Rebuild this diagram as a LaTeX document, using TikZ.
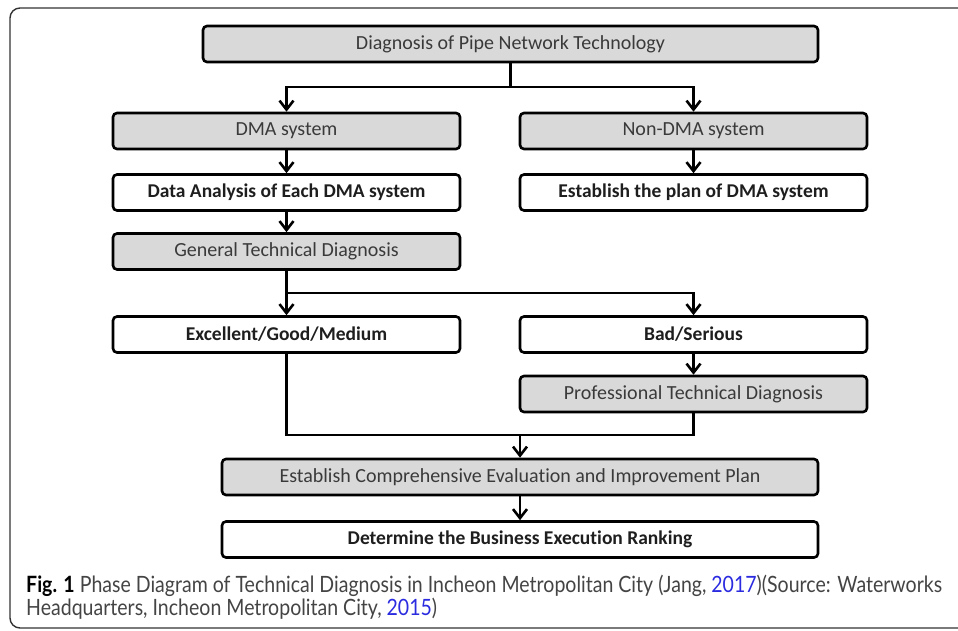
\documentclass[tikz,border=0pt]{standalone}
\usepackage{fontspec}
\setmainfont{Carlito}[Ligatures=NoCommon]
\newfontfamily\capfont{Lato}[Ligatures=NoCommon]
\usetikzlibrary{arrows.meta}
\definecolor{boxgray}{HTML}{D9D9D9}
\definecolor{textgray}{HTML}{3A3A3A}
\definecolor{textdark}{HTML}{1E1E1E}
\definecolor{capgray}{HTML}{444444}
\definecolor{linkblue}{HTML}{2B2BE0}
\definecolor{framegray}{HTML}{333333}
\newsavebox\capA
\tikzset{
  box/.style={draw=black, line width=2.6pt, rounded corners=4pt, minimum height=36pt, inner sep=0pt},
  graybox/.style={box, fill=boxgray, text=textgray, font=\fontsize{20}{22}\selectfont},
  whitebox/.style={box, fill=white, text=textdark, font=\fontsize{19.5}{22}\selectfont\bfseries},
  conn/.style={line width=2.6pt, black},
  arr/.style={conn, -{Straight Barb[length=9pt,width=14pt]}},
}
\begin{document}
\sbox\capA{\capfont\color{capgray}{\color{black}\textbf{Fig. 1}} Phase Diagram of Technical Diagnosis in Incheon Metropolitan City (Jang, \textcolor{linkblue}{2017})(Source: Waterworks}%
\pgfmathsetmacro\capscale{916/\the\wd\capA}%
\pgfmathsetmacro\capscaley{1.15*\capscale}%
\begin{tikzpicture}[x=1pt,y=-1pt]
\useasboundingbox (0,0) rectangle (958,630);
% outer frame
\draw[framegray, line width=1.4pt, rounded corners=10pt] (10,8) rectangle (990,628);
% nodes
\node[graybox, minimum width=615pt] (top) at (510.5,44) {Diagnosis of Pipe Network Technology};
\node[graybox, minimum width=347pt] (dma) at (286.5,131) {DMA system};
\node[graybox, minimum width=347pt] (ndma) at (693.5,131) {Non-DMA system};
\node[whitebox, minimum width=347pt] (data) at (286.5,192.5) {Data Analysis of Each DMA system};
\node[whitebox, minimum width=347pt] (plan) at (693.5,192.5) {Establish the plan of DMA system};
\node[graybox, minimum width=347pt] (gtd) at (286.5,251.5) {General Technical Diagnosis};
\node[whitebox, minimum width=347pt] (exc) at (286.5,334.5) {Excellent/Good/Medium};
\node[whitebox, minimum width=347pt] (bad) at (693.5,334.5) {Bad/Serious};
\node[graybox, minimum width=347pt] (prof) at (693.5,394) {Professional Technical Diagnosis};
\node[graybox, minimum width=596pt] (comp) at (520,477) {Establish Comprehensive Evaluation and Improvement Plan};
\node[whitebox, minimum width=596pt] (det) at (520,539.5) {Determine the Business Execution Ranking};
% junctions
\coordinate (j1) at (510.5,87);
\coordinate (j2) at (286.5,293);
\coordinate (j3) at (520,435);
% connectors
\draw[conn] (top.south) -- (j1);
\draw[arr] (j1) -| (dma.north);
\draw[arr] (j1) -| (ndma.north);
\draw[arr] (dma.south) -- (data.north);
\draw[arr] (ndma.south) -- (plan.north);
\draw[arr] (data.south) -- (gtd.north);
\draw[conn] (gtd.south) -- (j2);
\draw[arr] (j2) -- (exc.north);
\draw[arr] (j2) -| (bad.north);
\draw[arr] (bad.south) -- (prof.north);
\draw[conn] (exc.south) |- (j3);
\draw[conn] (prof.south) |- (j3);
\draw[arr] (j3) -- (comp.north);
\draw[arr] (comp.south) -- (det.north);
% caption
\node[anchor=base west, inner sep=0pt] (cap1) at (26,592) {\scalebox{\capscale}[\capscaley]{\usebox\capA}};
\node[anchor=base west, inner sep=0pt] (cap2) at (26,615) {\scalebox{\capscale}[\capscaley]{\capfont\color{capgray}Headquarters, Incheon Metropolitan City, \textcolor{linkblue}{2015})}};
\end{tikzpicture}
\end{document}
